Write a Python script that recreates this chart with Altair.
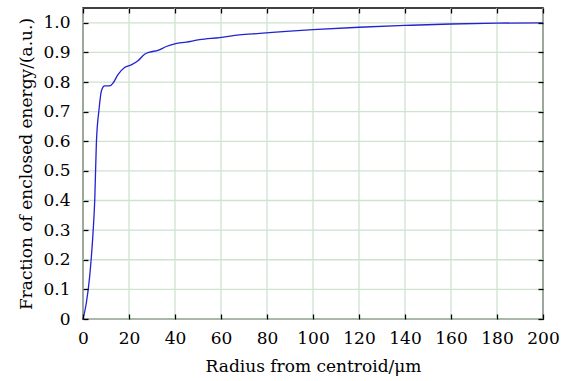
import altair as alt
import pandas as pd

radius = [0, 1.45, 2.9, 4.35, 5.1, 5.8, 7.0, 8.0, 9.4, 11.6, 13.0, 15.2, 18.1, 21.0,
          23.9, 26.8, 29.0, 32.6, 36.2, 39.9, 44.9, 50.7, 59.4, 68.0, 76.8, 90.0,
          100.0, 120.0, 140.0, 160.0, 180.0, 200.0]
energy = [0.0, 0.054, 0.144, 0.29, 0.40, 0.59, 0.71, 0.77, 0.787, 0.787, 0.796, 0.825,
          0.849, 0.858, 0.872, 0.894, 0.901, 0.907, 0.920, 0.929, 0.935, 0.943, 0.950,
          0.959, 0.964, 0.972, 0.977, 0.985, 0.991, 0.996, 0.999, 1.0]
x_ticks = [0, 20, 40, 60, 80, 100, 120, 140, 160, 180, 200]
y_ticks = [0, 0.1, 0.2, 0.3, 0.4, 0.5, 0.6, 0.7, 0.8, 0.9, 1.0]

df = pd.DataFrame({"r": radius, "e": energy})
dfx = pd.DataFrame({"r": x_ticks})
dfy = pd.DataFrame({"e": y_ticks})

FONT = "DejaVu Serif"
GRID = "#cfe2cf"
xscale = alt.Scale(domain=[0, 200], nice=False, zero=False)
yscale = alt.Scale(domain=[0, 1.05], nice=False, zero=False)
ylab = "datum.value == 0 ? '0' : format(datum.value, '.1f')"

tick_common = dict(offset=-5, tickSize=5, tickWidth=1.3, tickColor="black",
                   domain=False, grid=False, zindex=1)

xgrid = alt.Chart(dfx).mark_rule(color=GRID, strokeWidth=1.3).encode(
    x=alt.X("r:Q", scale=xscale, axis=None))
ygrid = alt.Chart(dfy).mark_rule(color=GRID, strokeWidth=1.3).encode(
    y=alt.Y("e:Q", scale=yscale, axis=None))

main = alt.Chart(df).mark_line(color="#2222d2", strokeWidth=1.3, interpolate="monotone").encode(
    x=alt.X("r:Q", scale=xscale, title="Radius from centroid/μm",
            axis=alt.Axis(orient="bottom", values=x_ticks, labelPadding=11, labelFont=FONT,
                          labelFontSize=17, labelColor="black", titleFont=FONT,
                          titleFontSize=17, titleFontWeight="normal", titleColor="black",
                          titlePadding=12, labelFlush=False, **tick_common)),
    y=alt.Y("e:Q", scale=yscale, title="Fraction of enclosed energy/(a.u.)",
            axis=alt.Axis(orient="left", values=y_ticks, labelPadding=13, labelFont=FONT,
                          labelFontSize=17, labelColor="black", labelExpr=ylab,
                          titleFont=FONT, titleFontSize=17, titleFontWeight="normal",
                          titleColor="black", titlePadding=7, labelFlush=False,
                          **tick_common)),
)

mirror = alt.Chart(df).mark_line(strokeOpacity=0).encode(
    x=alt.X("r:Q", scale=xscale, title=None,
            axis=alt.Axis(orient="top", values=x_ticks, labels=False, **tick_common)),
    y=alt.Y("e:Q", scale=yscale, title=None,
            axis=alt.Axis(orient="right", values=y_ticks, labels=False, **tick_common)),
)

chart = alt.layer(xgrid, ygrid, main, mirror).resolve_axis(
    x="independent", y="independent").properties(
    width=460, height=311,
    autosize=alt.AutoSizeParams(type="none"),
    padding={"left": 83, "top": 8, "right": 20, "bottom": 62},
    background="white",
).configure_view(stroke="black", strokeWidth=1.5)

chart.save("out.html", embed_options={"renderer": "svg", "actions": False})
